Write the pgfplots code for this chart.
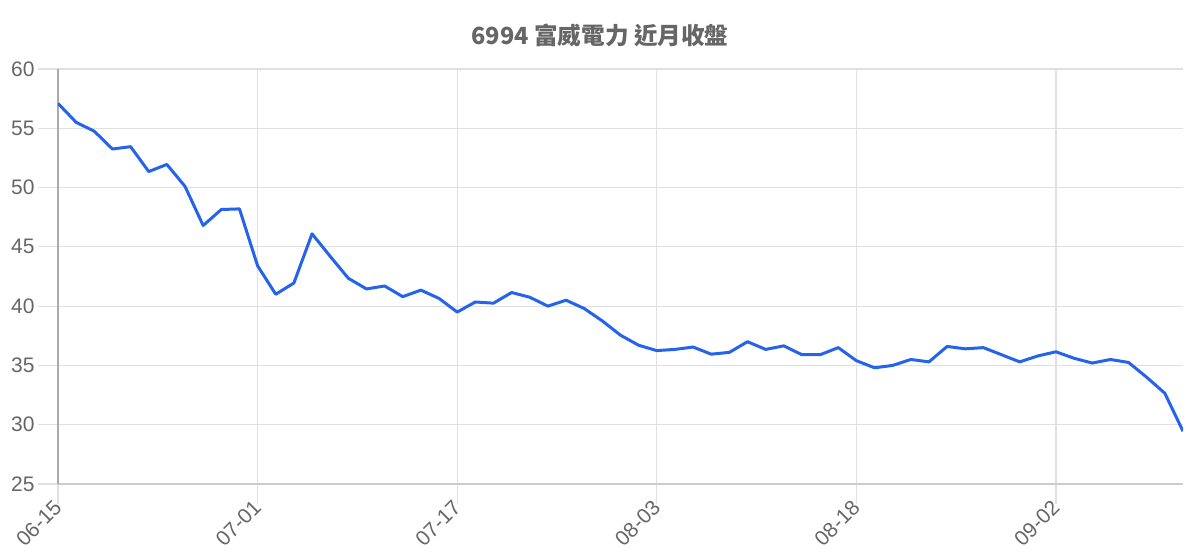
\documentclass[border=0pt]{standalone}
\usepackage{fontspec}
\setmainfont{Liberation Sans}
\newfontfamily\cjk{Noto Sans CJK TC}
\usepackage{pgfplots}
\pgfplotsset{compat=1.18}
\definecolor{lineblue}{RGB}{37,99,235}
\definecolor{txtgray}{RGB}{102,102,102}
\definecolor{gridgray}{RGB}{224,224,224}
\definecolor{axgray}{RGB}{170,170,170}
\definecolor{botgray}{RGB}{204,204,204}

\begin{document}
\begin{tikzpicture}
\useasboundingbox (-29pt,-38pt) rectangle (571pt,242pt);
\begin{axis}[
	at={(0,0)}, anchor=south west,
	scale only axis,
	width=562.5pt, height=207.5pt,
	xmin=0, xmax=62,
	ymin=25, ymax=60,
	xtick={0,11,22,33,44,55},
	xticklabels={06-15,07-01,07-17,08-03,08-18,09-02},
	ytick={25,30,35,40,45,50,55,60},
	grid=major,
	major grid style={draw=gridgray, line width=0.6pt},
	axis x line*=bottom,
	axis y line*=left,
	x axis line style={-, draw=botgray, line width=0.6pt},
	y axis line style={-, draw=axgray, line width=0.6pt},
	tick align=outside,
	major tick length=10pt,
	tick style={draw=gridgray, line width=0.6pt},
	tick label style={font=\fontsize{10.5}{12}\selectfont, text=txtgray},
	/pgf/number format/assume math mode=true,
	yticklabel style={anchor=east, inner sep=0pt, xshift=-1.5pt},
	xticklabel style={rotate=45, anchor=east, inner sep=0pt},
]
\addplot[lineblue, line width=1.5pt, line join=round, no markers] coordinates {
(0,57.1) (1,55.5) (2,54.75) (3,53.25) (4,53.45) (5,51.35) (6,51.95) (7,50.1)
(8,46.8) (9,48.15) (10,48.2) (11,43.4) (12,41.0) (13,41.95) (14,46.1) (15,44.2)
(16,42.35) (17,41.45) (18,41.7) (19,40.8) (20,41.35) (21,40.65) (22,39.5) (23,40.35)
(24,40.25) (25,41.15) (26,40.75) (27,40.0) (28,40.5) (29,39.8) (30,38.75) (31,37.55)
(32,36.7) (33,36.25) (34,36.35) (35,36.55) (36,35.95) (37,36.1) (38,37.0) (39,36.35)
(40,36.65) (41,35.9) (42,35.9) (43,36.5) (44,35.4) (45,34.8) (46,35.0) (47,35.5)
(48,35.3) (49,36.6) (50,36.4) (51,36.5) (52,35.9) (53,35.3) (54,35.8) (55,36.15)
(56,35.6) (57,35.2) (58,35.5) (59,35.25) (60,34.0) (61,32.65) (62,29.45)
};
\end{axis}
\node[text=txtgray, font=\cjk\bfseries\fontsize{11.8}{14}\selectfont] at (271pt,224.5pt) {6994 富威電力 近月收盤};
\end{tikzpicture}
\end{document}
